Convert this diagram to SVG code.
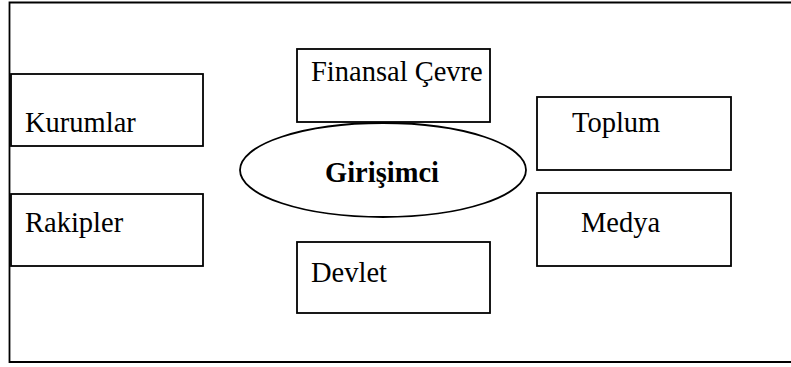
<svg xmlns="http://www.w3.org/2000/svg" width="791" height="367" viewBox="0 0 791 367">
<style>
.box{fill:#fff;stroke:#000;stroke-width:1.8}
.lbl{font-family:"Liberation Serif","Times New Roman",serif;font-size:28.5px;fill:#000}
.bold{font-weight:bold}
.frame{fill:none;stroke:#000;stroke-width:1.8}
</style>
<rect width="791" height="367" fill="#fff"/>
<path class="frame" d="M791 2.5H9.5V362H791"/>
<g id="connectors"></g>
<g id="kurumlar"><rect class="box" x="11" y="74" width="192" height="72"/><text class="lbl" x="25" y="132">Kurumlar</text></g>
<g id="rakipler"><rect class="box" x="11" y="194" width="192" height="72"/><text class="lbl" x="25" y="232">Rakipler</text></g>
<g id="finansal"><rect class="box" x="297" y="49" width="193" height="73"/><text class="lbl" x="311" y="81">Finansal Çevre</text></g>
<g id="devlet"><rect class="box" x="297" y="242" width="193" height="71"/><text class="lbl" x="311" y="282">Devlet</text></g>
<g id="toplum"><rect class="box" x="537" y="97" width="194" height="73"/><text class="lbl" x="572" y="132">Toplum</text></g>
<g id="medya"><rect class="box" x="537" y="193" width="194" height="73"/><text class="lbl" x="581" y="232">Medya</text></g>
<g id="girisimci"><ellipse class="box" cx="383" cy="170" rx="143" ry="47"/><text class="lbl bold" x="325" y="182">Girişimci</text></g>
</svg>
